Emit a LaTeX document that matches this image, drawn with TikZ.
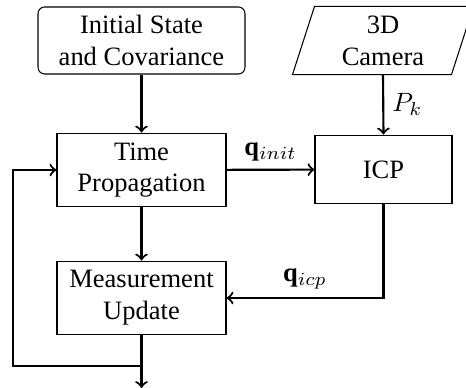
\documentclass[tikz,border=0pt]{standalone}
\usepackage{fontspec}
\setmainfont{Liberation Serif}
\usetikzlibrary{calc}
\begin{document}
\begin{tikzpicture}[x=0.3774pt,y=-0.3774pt,
  block/.style={draw, line width=0.4pt, align=center, inner sep=0pt},
  flow/.style={->, line width=0.8pt},
  lbl/.style={inner sep=1pt}]
\clip (0,0) rectangle (466,388);
\useasboundingbox (0,0) rectangle (466,388);

% initial conditions
\node[block, rounded corners=2.5pt, minimum width=78.1pt, minimum height=25.3pt]
  (init) at (141.5,40.5) {Initial State\\and Covariance};

% sensor input, drawn as a slanted parallelogram around its label
\node[align=center, inner sep=0pt, minimum width=59.6pt, minimum height=25.3pt]
  (cam) at (383,40.5) {3D\\Camera};
\draw[line width=0.4pt] ($(cam.south west)+(-11,0)$) -- ($(cam.north west)+(11,0)$)
  -- ($(cam.north east)+(11,0)$) -- ($(cam.south east)+(-11,0)$) -- cycle;

% filter blocks
\node[block, minimum width=63.8pt, minimum height=27.9pt]
  (time) at (141.5,170) {Time\\Propagation};
\node[block, minimum width=51.7pt, minimum height=26pt]
  (icp) at (383.5,169.5) {ICP};
\node[block, minimum width=63.8pt, minimum height=27.9pt]
  (meas) at (141.5,298) {Measurement\\Update};

% loop and output points
\coordinate (split) at (141.5,366);
\coordinate (out) at (141.5,388);
\coordinate (corner) at (13,366);

% connectors
\draw[flow] (init) -- (time);
\draw[flow] (cam.south) -- node[lbl, right, xshift=2pt] {$P_k$} (icp.north);
\draw[flow] (time) -- node[lbl, above, yshift=2pt] {$\mathbf{q}_{init}$} (icp);
\draw[flow] (icp.south) |- node[lbl, pos=0.75, above, yshift=2pt] {$\mathbf{q}_{icp}$} (meas.east);
\draw[flow] (time) -- (meas);
\draw[flow] (meas.south) -- (out);
\draw[flow] (split) -- (corner) |- (time.west);
\end{tikzpicture}
\end{document}
